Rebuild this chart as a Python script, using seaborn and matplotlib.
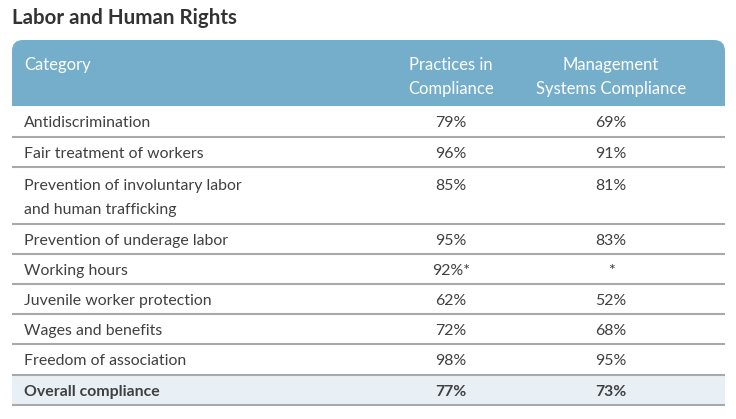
import seaborn as sns
import pandas as pd
import matplotlib.pyplot as plt
from matplotlib.patches import FancyBboxPatch, Rectangle

sns.set_theme(style="white")
plt.rcParams['font.family'] = ['Lato', 'DejaVu Sans']

title = "Labor and Human Rights"
columns = ["Category", "Practices in\nCompliance", "Management\nSystems Compliance"]
categories = ["Antidiscrimination", "Fair treatment of workers",
              "Prevention of involuntary labor\nand human trafficking",
              "Prevention of underage labor", "Working hours",
              "Juvenile worker protection", "Wages and benefits",
              "Freedom of association", "Overall compliance"]
practices = ["79%", "96%", "85%", "95%", "92%*", "62%", "72%", "98%", "77%"]
management = ["69%", "91%", "81%", "83%", "*", "52%", "68%", "95%", "73%"]

df = pd.DataFrame({"Category": categories, "Practices": practices, "Management": management})

# row boundaries in pixels (top of each row, last = bottom of table)
edges = [106, 137, 167, 224, 254, 284, 314, 344, 375, 405]
x0, x1 = 12, 725
col_x = [24, 451, 611]

fig = plt.figure(figsize=(7.36, 4.19), dpi=100)
ax = fig.add_axes([0, 0, 1, 1])
ax.set_xlim(0, 736)
ax.set_ylim(419, 0)
ax.axis("off")

text_c = "#404040"
head_c = "#74aecb"
line_c = "#a9a9a9"
fs = 11.4

ax.text(12, 18, title, fontsize=14.8, fontweight="bold", color="#333333", va="center", ha="left")

# header box with rounded top corners
ax.add_patch(FancyBboxPatch((x0, 40), x1 - x0, 66, boxstyle="round,pad=0,rounding_size=11",
                            fc=head_c, ec="none"))
ax.add_patch(Rectangle((x0, 70), x1 - x0, 36, fc=head_c, ec="none"))
ax.text(col_x[0], 65, columns[0], color="white", fontsize=12, va="center", ha="left")
for cx, lab in zip(col_x[1:], columns[1:]):
    top_line, bottom_line = lab.split("\n")
    ax.text(cx, 65, top_line, color="white", fontsize=12, va="center", ha="center")
    ax.text(cx, 89, bottom_line, color="white", fontsize=12, va="center", ha="center")

# overall row background
ax.add_patch(Rectangle((x0, edges[-2]), x1 - x0, edges[-1] - edges[-2], fc="#e8f0f6", ec="none"))

for i, row in df.iterrows():
    top, bot = edges[i], edges[i + 1]
    fw = "bold" if i == len(df) - 1 else "normal"
    if "\n" in row["Category"]:
        yc = top + 19
        first, second = row["Category"].split("\n")
        ax.text(col_x[0], yc, first, color=text_c, fontsize=fs, fontweight=fw, va="center")
        ax.text(col_x[0], yc + 24, second, color=text_c, fontsize=fs, fontweight=fw, va="center")
    else:
        yc = (top + bot) / 2 + 1.5
        ax.text(col_x[0], yc, row["Category"], color=text_c, fontsize=fs, fontweight=fw, va="center")
    ax.text(col_x[1], yc, row["Practices"], color=text_c, fontsize=fs, fontweight=fw, va="center", ha="center")
    ax.text(col_x[2], yc, row["Management"], color=text_c, fontsize=fs, fontweight=fw, va="center", ha="center")
    ax.hlines(bot, x0, x1, color=line_c, lw=1.5)

fig.savefig("out.png", dpi=100)
